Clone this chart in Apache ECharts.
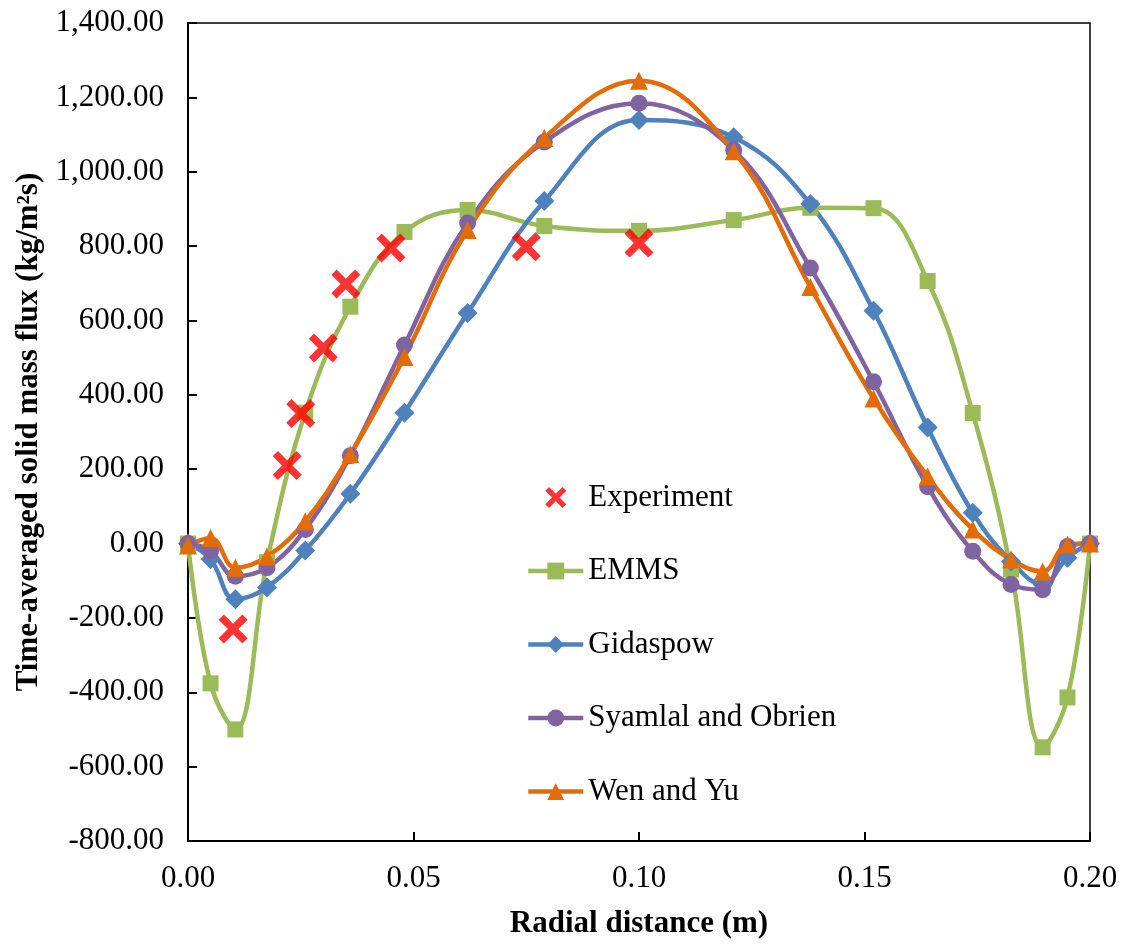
<!DOCTYPE html>
<html>
<head>
<meta charset="utf-8">
<script src="https://cdn.jsdelivr.net/npm/echarts@6/dist/echarts.min.js"></script>
<style>html,body{margin:0;padding:0;background:#fff}#c{width:1129px;height:944px}</style>
</head>
<body>
<div id="c"></div>
<script>
// Radial positions shared by the simulation series
var radialX = [0, 0.005, 0.0105, 0.0175, 0.026, 0.036, 0.048, 0.062, 0.079, 0.100, 0.121, 0.138, 0.152, 0.164, 0.174, 0.1825, 0.1895, 0.195, 0.200];
var emms      = [0, -376, -500, -50, 352, 637, 838, 897, 854, 841, 870, 903, 902, 706, 351, -70, -548, -414, 0];
var gidaspow  = [0, -42, -150, -118, -19, 134, 352, 620, 921, 1139, 1093, 913, 626, 312, 83, -48, -110, -38, 0];
var syamlal   = [0, -20, -88, -65, 38, 236, 534, 862, 1080, 1184, 1058, 741, 435, 153, -21, -110, -124, -8, 0];
var wenYu     = [-5, 15, -65, -35, 60, 240, 502, 843, 1091, 1245, 1055, 690, 390, 180, 38, -43, -75, -3, 0];
// Experimental points
var expX = [0.010, 0.022, 0.025, 0.030, 0.035, 0.045, 0.075, 0.100];
var expY = [-230, 210, 350, 526, 698, 795, 798, 808];
// Axis settings
var xTicks = {min: 0, max: 0.2, interval: 0.05};
var yTicks = {min: -800, max: 1400, interval: 200};

function pairs(xs, ys){ return xs.map(function(x,i){ return [x, ys[i]]; }); }
function fmtY(v){
  var s = Math.abs(v).toFixed(2).split('.');
  s[0] = s[0].replace(/\B(?=(\d{3})+(?!\d))/g, ',');
  return (v < 0 ? '-' : '') + s.join('.');
}
var FONT = '"Liberation Serif", "Times New Roman", serif';
var xPath = 'path://M0.18,0 L0.5,0.32 L0.82,0 L1,0.18 L0.68,0.5 L1,0.82 L0.82,1 L0.5,0.68 L0.18,1 L0,0.82 L0.32,0.5 L0,0.18 Z';

function lineSeries(name, ys, color, symbol, size){
  return {
    name: name, type: 'line', data: pairs(radialX, ys), smooth: 0.4,
    symbol: symbol, symbolSize: size, showAllSymbol: true,
    lineStyle: {color: color, width: 4.5},
    itemStyle: {color: color},
    emphasis: {disabled: true}
  };
}

var chart = echarts.init(document.getElementById('c'));
chart.setOption({
  animation: false,
  backgroundColor: '#fff',
  textStyle: {fontFamily: FONT},
  grid: {left: 188, right: 39, top: 23, bottom: 102, show: true, borderColor: '#000', borderWidth: 1.5, backgroundColor: 'transparent'},
  xAxis: {
    type: 'value', min: xTicks.min, max: xTicks.max, interval: xTicks.interval,
    name: 'Radial distance (m)', nameLocation: 'middle', nameGap: 67,
    nameTextStyle: {fontFamily: FONT, fontSize: 31, fontWeight: 'bold', color: '#000'},
    axisLine: {show: true, onZero: false, lineStyle: {color: '#000', width: 2}},
    axisTick: {show: true, inside: true, length: 9, lineStyle: {color: '#000', width: 2}},
    axisLabel: {fontFamily: FONT, fontSize: 31, color: '#000', margin: 22, formatter: function(v){ return v.toFixed(2); }},
    splitLine: {show: false}
  },
  yAxis: {
    type: 'value', min: yTicks.min, max: yTicks.max, interval: yTicks.interval,
    name: 'Time-averaged solid mass flux (kg/m\u00B2s)', nameLocation: 'middle', nameGap: 142,
    nameTextStyle: {fontFamily: FONT, fontSize: 31, fontWeight: 'bold', color: '#000'},
    axisLine: {show: true, onZero: false, lineStyle: {color: '#000', width: 2}},
    axisTick: {show: true, inside: true, length: 9, lineStyle: {color: '#000', width: 2}},
    axisLabel: {fontFamily: FONT, fontSize: 31, color: '#000', margin: 24, formatter: fmtY},
    splitLine: {show: false}
  },
  legend: {
    orient: 'vertical', left: 521, top: 477, itemWidth: 55, itemHeight: 21, itemGap: 42.5,
    lineStyle: {width: 4.5},
    textStyle: {fontFamily: FONT, fontSize: 31, color: '#000'},
    data: ['Experiment', 'EMMS', 'Gidaspow', 'Syamlal and Obrien', 'Wen and Yu']
  },
  series: [
    lineSeries('EMMS', emms, '#9BBB59', 'rect', 16),
    lineSeries('Gidaspow', gidaspow, '#4F81BD', 'diamond', 20),
    lineSeries('Syamlal and Obrien', syamlal, '#8064A2', 'circle', 17),
    lineSeries('Wen and Yu', wenYu, '#E36C09', 'triangle', 18),
    {
      name: 'Experiment', type: 'scatter', data: pairs(expX, expY), z: 5,
      symbol: xPath, symbolSize: 29, itemStyle: {color: '#FF0000'},
      emphasis: {disabled: true}
    }
  ]
});
</script>
</body>
</html>
